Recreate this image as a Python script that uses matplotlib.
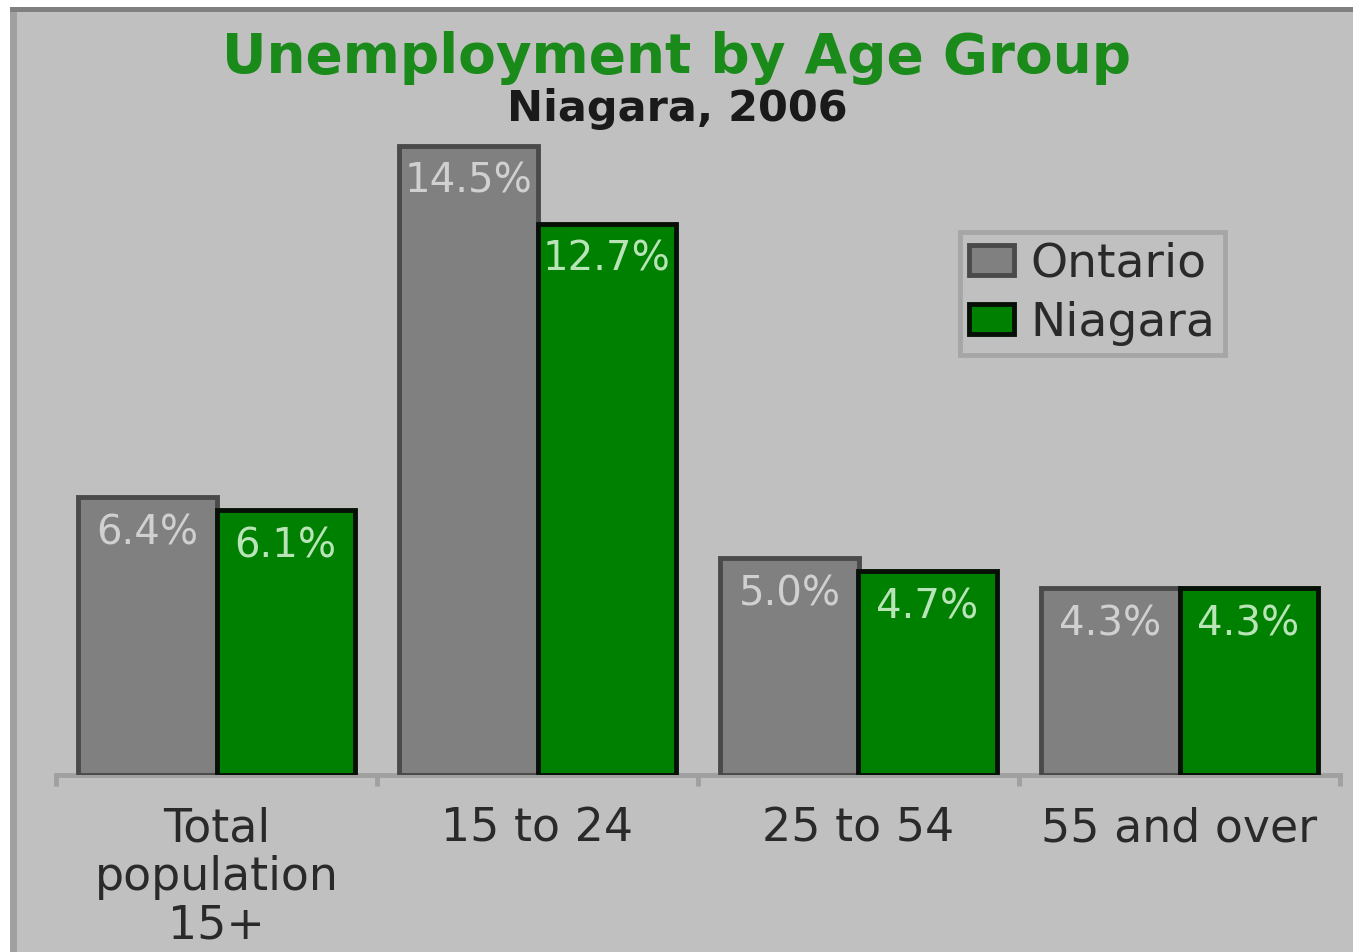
import matplotlib
matplotlib.use("Agg")
import matplotlib.pyplot as plt
from matplotlib.patches import Rectangle
import numpy as np

categories = ["Total\npopulation\n15+", "15 to 24", "25 to 54", "55 and over"]
ontario = [6.4, 14.5, 5.0, 4.3]
niagara = [6.1, 12.7, 4.7, 4.3]
series_names = ["Ontario", "Niagara"]
title = "Unemployment by Age Group"
subtitle = "Niagara, 2006"

W, H = 1353, 952
plt.rcParams["font.family"] = ["DejaVu Sans"]
fig = plt.figure(figsize=(W / 100, H / 100), dpi=100)
fig.patch.set_facecolor("white")

def px(x, y):
    return x / W, 1 - y / H

# panel background with borders
x0, y0 = px(10, 7)
fig.patches.append(Rectangle((x0, 0), 1 - x0, y0, transform=fig.transFigure,
                             facecolor="#c0c0c0", edgecolor="none", zorder=-10))
fig.patches.append(Rectangle((x0, y0 - 5 / H), 1 - x0, 5 / H, transform=fig.transFigure,
                             facecolor="#808080", edgecolor="none", zorder=-9))
fig.patches.append(Rectangle((x0, 0), 7 / W, y0 - 5 / H, transform=fig.transFigure,
                             facecolor="#a0a0a0", edgecolor="none", zorder=-9))

ppu = 43.4
base_y = 775
top_y = 100
ax_left = 56 / W
ax_right = 1340 / W
ax_bottom = 1 - base_y / H
ax_height = (base_y - top_y) / H
ax = fig.add_axes([ax_left, ax_bottom, ax_right - ax_left, ax_height])
ax.set_facecolor("none")
ax.set_ylim(0, (base_y - top_y) / ppu)
ax.set_xlim(-0.5, len(categories) - 0.5)

x = np.arange(len(categories))
bw = 0.43
b1 = ax.bar(x - bw / 2, ontario, bw, color="#808080", edgecolor="#4a4a4a", linewidth=3.5, zorder=3)
b2 = ax.bar(x + bw / 2, niagara, bw, color="#008000", edgecolor="#061006", linewidth=3.5, zorder=3)

for rects, vals, col in [(b1, ontario, "#d0d0d0"), (b2, niagara, "#b8e4b8")]:
    for r, v in zip(rects, vals):
        ax.annotate(f"{v:.1f}%", (r.get_x() + r.get_width() / 2, v), xytext=(0, -26),
                    textcoords="offset points", ha="center", va="center",
                    fontsize=29, color=col, zorder=4)

for s in ["top", "right", "left"]:
    ax.spines[s].set_visible(False)
ax.spines["bottom"].set_color("#a0a0a0")
ax.spines["bottom"].set_linewidth(3.5)
ax.set_yticks([])
ax.set_xticks(np.arange(len(categories) + 1) - 0.5, minor=False)
ax.set_xticklabels([])
ax.tick_params(axis="x", length=8, width=3.5, color="#a0a0a0", direction="out")
ax.set_xticks(x, minor=True)
ax.set_xticklabels(categories, minor=True, fontsize=33, color="#2a2a2a", linespacing=1.1, va="top")
ax.tick_params(axis="x", which="minor", length=0, pad=23)

fig.text(677 / W, 1 - 58 / H, title, ha="center", va="center", fontsize=39.5,
         fontweight="bold", color="#1a8a1a")
fig.text(677 / W, 1 - 109 / H, subtitle, ha="center", va="center", fontsize=31,
         fontweight="bold", color="#1a1a1a")

leg = ax.legend([b1, b2], series_names, loc="upper left",
                bbox_to_anchor=(px(960, 232)[0], px(960, 232)[1]),
                bbox_transform=fig.transFigure, fontsize=34, frameon=True, fancybox=False,
                handlelength=0.95, handleheight=0.6, handletextpad=0.35, borderpad=0.2,
                labelspacing=0.3, borderaxespad=0)
leg.get_frame().set_facecolor("#c0c0c0")
leg.get_frame().set_edgecolor("#a0a0a0")
leg.get_frame().set_linewidth(3.5)
for t in leg.get_texts():
    t.set_color("#2a2a2a")

fig.savefig("out.png", dpi=100, facecolor=fig.get_facecolor())
